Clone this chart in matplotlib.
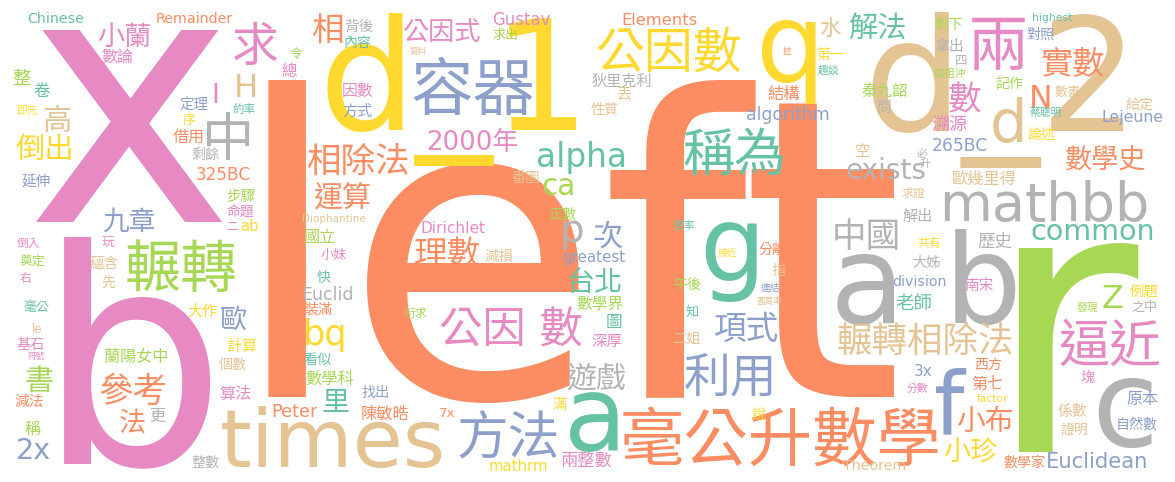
import matplotlib
matplotlib.use("Agg")
import matplotlib.pyplot as plt
from matplotlib.textpath import TextPath
from matplotlib.font_manager import FontProperties

# ---- data: words of the cloud ----
words = [
    "x", "b", "left", "d_1", "d_2", "times", "a b", "r", "c", "f",
    "a", "g", "q", "d", "mathbb", "容器", "公因數", "兩", "實數", "數",
    "N", "數學史", "稱為", "alpha", "exists", "中國", "common", "歐幾里得", "求證", "解出",
    "歷史", "共有", "大姊", "division", "南宋", "老師", "Z", "例題", "之中", "發現",
    "逼近", "塊", "原本", "自然數", "Euclidean", "數學家", "係數", "證明", "小布", "小珍",
    "factor", "第七", "西方", "3x", "分數", "輾轉相除法", "毫公升數學", "Theorem", "利用", "項式",
    "二姐", "說", "遊戲", "深厚", "圖", "兩整數", "mathrm", "滿", "方法", "7x",
    "陳敏晧", "找出", "里", "數學科", "看似", "bq", "Peter", "公因 數", "台北", "數學界",
    "次", "p", "greatest", "正數", "ca", "番圖", "相除法", "2000年", "運算", "Diophantine",
    "國立", "小妹", "快", "Euclid", "裝滿", "衍求", "Dirichlet", "理數", "減損", "相",
    "背後", "內容", "公因式", "Gustav", "求出", "資料", "因數", "方式", "Elements", "狄里克利",
    "丟", "性質", "結構", "algorithm", "水", "解法", "註", "第一", "趣談", "秦九韶",
    "問", "空", "剩下", "拿出", "四", "如祖沖", "記作", "highest", "對照", "數書",
    "給定", "Lejeune", "蔡聰明", "論述", "溯源", "265BC", "必", "升", "Chinese", "Remainder",
    "小蘭", "數論", "求", "令", "總", "H", "I", "約率", "中", "定理",
    "序", "借用", "剩餘", "整", "卷", "即先", "高", "倒出", "325BC", "延伸",
    "步驟", "命題", "二", "ab", "九章", "輾轉", "玩", "蘊含", "先", "倒入",
    "奠定", "右", "毫公", "大作", "歐", "le", "基石", "符號", "書", "減法",
    "稱", "2x", "蘭陽女中", "參考", "法", "更", "計算", "個數", "算法", "整數",
    "午後", "知", "密率", "接近", "分離", "指", "連結", "圓周率",
]

# ---- layout: ink box (left, top, right, bottom) in pixels for each word ----
boxes = [
    (36, 22, 222, 230), (58, 237, 215, 468), (262, 80, 900, 403), (303, 13, 600, 166), (843, 13, 1152, 168),
    (218, 405, 447, 468), (837, 225, 1015, 330), (1018, 243, 1138, 452), (1093, 378, 1155, 448), (935, 367, 967, 433),
    (569, 393, 618, 452), (703, 222, 757, 302), (760, 20, 818, 104), (990, 97, 1025, 143), (938, 180, 1153, 222),
    (403, 57, 543, 115), (590, 27, 747, 72), (972, 18, 1025, 70), (1038, 47, 1108, 77), (947, 82, 983, 113),
    (1030, 87, 1052, 107), (1062, 145, 1148, 170), (683, 127, 783, 175), (538, 143, 624, 172), (847, 158, 925, 180),
    (835, 218, 898, 250), (1032, 222, 1152, 242), (950, 170, 1018, 185), (898, 187, 928, 198), (902, 208, 933, 222),
    (978, 232, 1012, 248), (915, 237, 943, 248), (910, 255, 942, 268), (893, 275, 945, 287), (965, 277, 993, 292),
    (895, 293, 932, 310), (1103, 285, 1122, 307), (1130, 283, 1158, 297), (1130, 300, 1158, 312), (1077, 302, 1098, 312),
    (1060, 318, 1160, 367), (1080, 370, 1095, 383), (1127, 390, 1158, 405), (1115, 417, 1160, 430), (1048, 452, 1147, 468),
    (1002, 455, 1047, 468), (1058, 403, 1087, 417), (1060, 422, 1088, 435), (957, 405, 1012, 433), (943, 438, 997, 463),
    (977, 393, 1008, 403), (972, 375, 1003, 390), (975, 357, 1002, 370), (915, 365, 932, 375), (907, 383, 928, 393),
    (837, 322, 1013, 355), (623, 405, 938, 468), (843, 458, 905, 472), (680, 352, 777, 395), (713, 312, 780, 342),
    (673, 332, 700, 345), (752, 407, 765, 420), (567, 362, 625, 390), (592, 333, 622, 347), (607, 313, 621, 328),
    (562, 450, 612, 468), (490, 460, 547, 470), (553, 397, 567, 410), (457, 410, 560, 458), (440, 407, 455, 417),
    (358, 405, 413, 420), (360, 385, 390, 398), (323, 388, 348, 413), (303, 370, 357, 385), (303, 352, 332, 365),
    (305, 318, 345, 352), (273, 404, 317, 418), (433, 307, 590, 347), (567, 267, 622, 293), (577, 295, 623, 310),
    (593, 220, 622, 248), (563, 220, 582, 250), (563, 251, 625, 265), (548, 207, 578, 220), (543, 178, 573, 195),
    (510, 170, 540, 183), (307, 143, 410, 175), (423, 128, 523, 152), (313, 183, 370, 210), (303, 214, 365, 224),
    (303, 228, 338, 243), (320, 248, 348, 260), (315, 270, 332, 283), (303, 288, 352, 300), (303, 302, 333, 315),
    (402, 307, 430, 318), (422, 221, 485, 234), (412, 237, 483, 268), (485, 248, 513, 262), (310, 13, 343, 43),
    (345, 18, 373, 32), (343, 35, 373, 48), (400, 18, 483, 42), (493, 12, 550, 26), (490, 28, 520, 40),
    (408, 47, 428, 55), (343, 82, 373, 97), (343, 103, 372, 117), (623, 12, 697, 25), (590, 73, 653, 87),
    (618, 87, 632, 100), (590, 102, 618, 115), (768, 85, 800, 100), (747, 106, 828, 124), (818, 17, 843, 37),
    (847, 13, 907, 40), (782, 47, 793, 55), (817, 47, 843, 60), (817, 65, 840, 75), (862, 82, 907, 97),
    (877, 100, 892, 113), (855, 143, 870, 157), (935, 17, 963, 30), (935, 38, 963, 52), (955, 55, 967, 65),
    (933, 68, 967, 78), (995, 77, 1023, 90), (1033, 12, 1072, 24), (1025, 27, 1055, 40), (1053, 85, 1082, 97),
    (1125, 97, 1153, 110), (1103, 110, 1162, 126), (1028, 107, 1062, 117), (1025, 127, 1057, 140), (932, 115, 967, 132),
    (933, 138, 987, 152), (917, 148, 928, 158), (919, 158, 931, 168), (28, 12, 83, 23), (157, 12, 233, 23),
    (97, 22, 152, 47), (102, 48, 133, 63), (233, 22, 278, 65), (288, 48, 303, 60), (282, 63, 297, 77),
    (237, 73, 255, 98), (213, 85, 218, 102), (233, 103, 255, 115), (207, 112, 250, 160), (180, 97, 208, 112),
    (183, 113, 195, 125), (173, 128, 203, 143), (192, 147, 220, 160), (13, 68, 30, 85), (33, 82, 50, 97),
    (17, 105, 38, 115), (43, 105, 70, 132), (15, 133, 72, 160), (197, 168, 250, 180), (22, 173, 50, 187),
    (227, 188, 255, 202), (225, 205, 255, 218), (227, 222, 238, 230), (240, 220, 258, 230), (100, 207, 157, 232),
    (122, 240, 240, 292), (102, 237, 115, 248), (90, 255, 118, 270), (102, 275, 115, 288), (17, 237, 40, 248),
    (17, 255, 48, 267), (18, 272, 32, 283), (22, 300, 50, 312), (188, 303, 217, 317), (220, 305, 247, 330),
    (32, 325, 43, 333), (15, 337, 45, 350), (25, 352, 47, 360), (25, 365, 53, 392), (15, 393, 43, 407),
    (25, 420, 40, 435), (18, 438, 50, 458), (100, 348, 172, 363), (98, 373, 167, 405), (118, 408, 147, 433),
    (150, 408, 165, 422), (227, 338, 257, 352), (218, 357, 248, 370), (218, 385, 252, 400), (190, 455, 222, 468),
    (672, 277, 702, 290), (685, 305, 698, 317), (673, 220, 695, 230), (717, 248, 738, 257), (758, 242, 787, 255),
    (772, 263, 785, 277), (760, 283, 780, 292), (753, 297, 785, 305),
]

# ---- style: colour key per word (Set2 palette) ----
hues = (
    "PPOYNNGLGB" "TTYNGBYPOP" "OOTTGGTNNG" "GYGBPTLYGL" "PPBBBONNOY"
    "YOOBPNONBB" "NYGPTPYYBO" "OBTLTYOPTL" "BGBLLNOPON" "LPTGOLPONO"
    "GTPPLNPBOG" "NNOBNTOYTL" "GNLGGLLTBN" "NBTYPBGGTO" "PPPLPNPTGB"
    "YOGLTYNYOB" "LPPYBLPNNP" "LPTYBNPPLO" "LBLOOGYNPG" "LTTYONBN"
)
palette = {
    "T": "#66c2a5", "O": "#fc8d62", "B": "#8da0cb", "P": "#e78ac3",
    "L": "#a6d854", "Y": "#ffd92f", "N": "#e5c494", "G": "#b3b3b3",
}

assert len(words) == len(boxes) == len(hues)

W, H = 1175, 482
fig = plt.figure(figsize=(W / 100, H / 100), dpi=100)
fig.patch.set_facecolor("white")
ax = fig.add_axes([0, 0, 1, 1])
ax.set_xlim(0, W)
ax.set_ylim(H, 0)
ax.axis("off")

families = ["DejaVu Sans", "Noto Sans CJK TC"]
fp = FontProperties(family=families, weight="medium")

for w, h, (x0, y0, x1, y1) in zip(words, hues, boxes):
    ext = TextPath((0, 0), w, size=100, prop=fp).get_extents()
    kw = (x1 - x0) / max(ext.width, 1e-6)
    kh = (y1 - y0) / max(ext.height, 1e-6)
    # small latin words: width is the more reliable measure
    tol = 1.15 if (w.isascii() and (y1 - y0) < 30) else 1.0
    k = min(kw, kh * tol)
    cx, cy = (x0 + x1) / 2, (y0 + y1) / 2
    tx = cx - k * (ext.x0 + ext.x1) / 2
    ty = cy + k * (ext.y0 + ext.y1) / 2
    ax.text(tx, ty, w, fontsize=72 * k, color=palette[h], family=families,
            weight="medium", ha="left", va="baseline")

fig.savefig("out.png", dpi=100, facecolor="white")
